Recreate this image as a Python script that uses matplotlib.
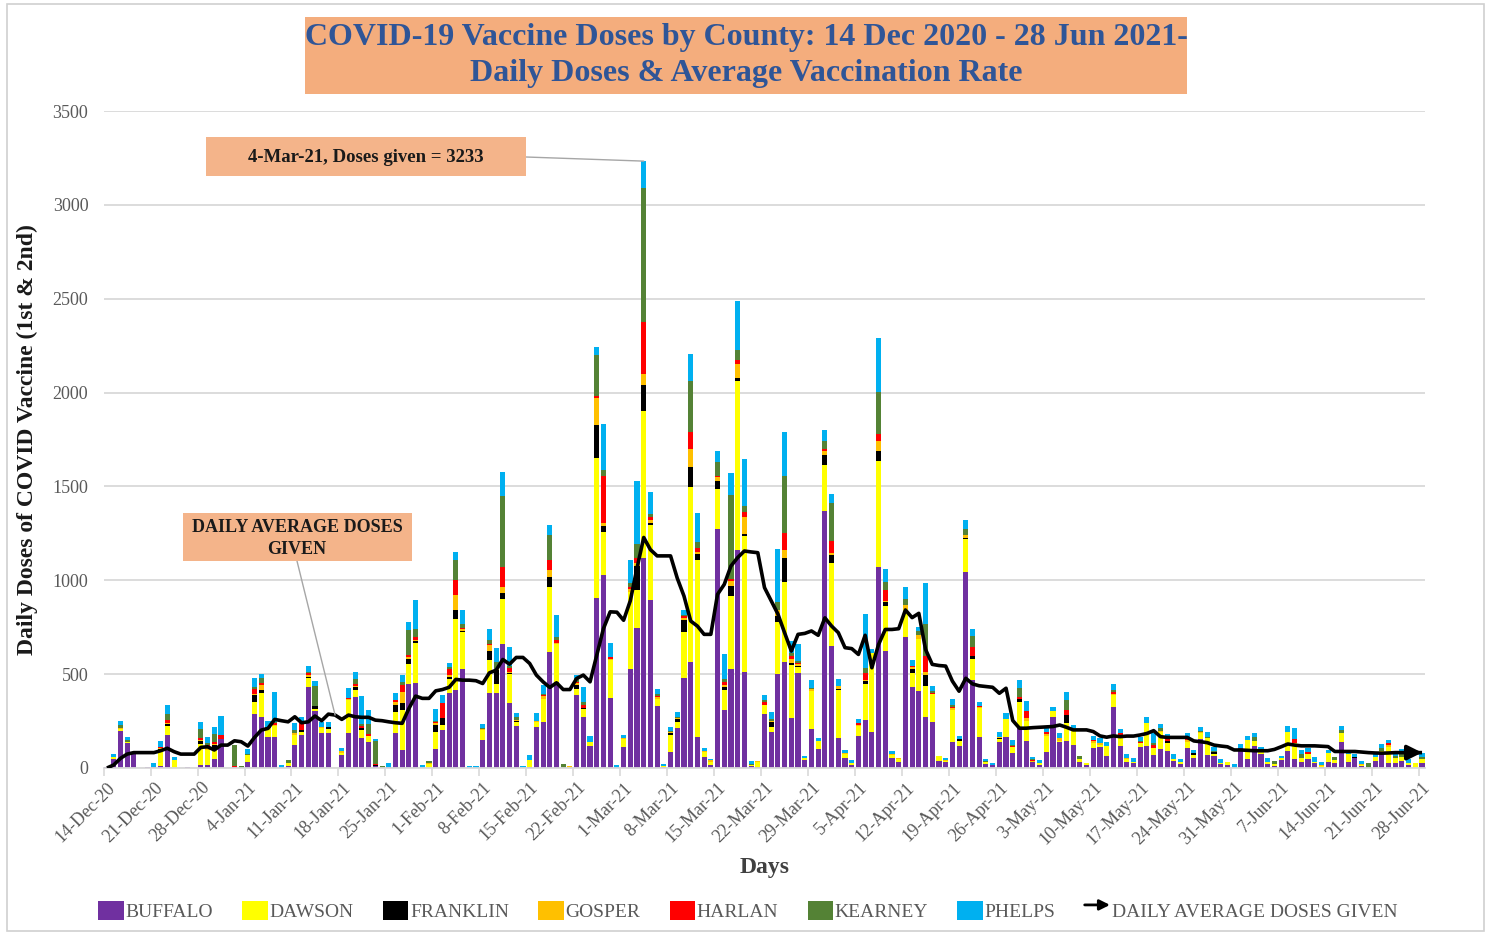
import numpy as np
import matplotlib
matplotlib.use("Agg")
import matplotlib.pyplot as plt
from matplotlib.patches import Patch, Rectangle, FancyArrowPatch
from matplotlib.lines import Line2D
from matplotlib.legend_handler import HandlerBase

plt.rcParams['font.family'] = ['Liberation Serif', 'DejaVu Serif']

# ---- data: daily doses per county, 14 Dec 2020 .. 28 Jun 2021 (197 days) ----
buffalo = [3, 50, 199, 131, 78, 0, 3, 5, 10, 174,
           2, 0, 5, 0, 15, 15, 46, 152, 0, 5,
           0, 34, 290, 273, 167, 167, 0, 8, 122, 175,
           433, 305, 188, 188, 0, 70, 184, 376, 158, 140,
           10, 0, 5, 188, 96, 450, 454, 0, 0, 99,
           202, 400, 418, 530, 0, 0, 149, 397, 400, 663,
           347, 223, 0, 5, 220, 246, 619, 459, 0, 0,
           388, 270, 117, 908, 1030, 374, 0, 110, 525, 746,
           1121, 896, 330, 3, 85, 215, 478, 564, 167, 60,
           15, 1271, 311, 528, 1164, 511, 8, 5, 290, 190,
           499, 564, 267, 507, 40, 208, 101, 1370, 649, 160,
           53, 17, 173, 254, 190, 1073, 623, 52, 32, 699,
           432, 409, 272, 244, 36, 30, 137, 117, 1042, 470,
           167, 21, 18, 137, 164, 82, 221, 146, 34, 16,
           87, 274, 141, 146, 121, 34, 16, 105, 114, 64,
           327, 119, 34, 25, 113, 117, 69, 99, 90, 39,
           21, 105, 55, 152, 69, 64, 20, 16, 0, 105,
           46, 119, 74, 21, 11, 40, 92, 46, 34, 46,
           25, 7, 34, 29, 141, 34, 52, 12, 4, 39,
           75, 25, 29, 39, 16, 0, 29]
dawson = [0, 8, 10, 8, 0, 0, 0, 0, 85, 50,
          40, 0, 0, 0, 115, 80, 60, 0, 0, 0,
          0, 35, 62, 124, 44, 55, 0, 20, 53, 15,
          44, 10, 23, 20, 0, 10, 177, 39, 44, 30,
          0, 0, 0, 112, 213, 106, 213, 0, 20, 94,
          27, 73, 378, 195, 0, 0, 53, 177, 50, 239,
          156, 23, 0, 35, 27, 119, 346, 204, 0, 3,
          35, 43, 23, 745, 227, 200, 0, 45, 415, 200,
          782, 396, 40, 10, 90, 30, 246, 932, 943, 25,
          15, 214, 107, 388, 900, 726, 10, 28, 43, 28,
          279, 428, 280, 32, 12, 201, 41, 244, 445, 254,
          20, 12, 50, 196, 423, 564, 240, 18, 18, 146,
          75, 279, 164, 148, 30, 8, 174, 28, 178, 110,
          151, 10, 0, 16, 96, 32, 133, 107, 0, 10,
          84, 27, 5, 96, 91, 12, 12, 27, 10, 53,
          62, 48, 12, 8, 21, 124, 35, 94, 44, 8,
          9, 35, 14, 32, 89, 11, 9, 14, 0, 0,
          103, 27, 27, 9, 11, 12, 101, 89, 18, 29,
          9, 5, 45, 14, 48, 41, 0, 5, 0, 21,
          13, 89, 23, 21, 9, 25, 18]
franklin = [0, 0, 0, 0, 0, 0, 2, 0, 5, 10,
            0, 0, 0, 0, 15, 0, 15, 0, 0, 0,
            0, 0, 35, 18, 0, 0, 0, 0, 0, 10,
            8, 14, 0, 8, 0, 0, 0, 14, 12, 0,
            5, 0, 0, 35, 35, 27, 8, 0, 0, 35,
            35, 12, 48, 5, 0, 0, 0, 50, 70, 30,
            5, 7, 0, 0, 0, 0, 53, 0, 0, 0,
            18, 5, 0, 174, 34, 0, 0, 0, 0, 130,
            139, 15, 0, 0, 10, 18, 64, 107, 32, 0,
            0, 43, 14, 53, 15, 9, 0, 0, 0, 25,
            32, 129, 12, 5, 0, 0, 0, 53, 39, 5,
            0, 0, 0, 12, 0, 53, 21, 0, 0, 0,
            21, 0, 62, 0, 0, 0, 0, 8, 5, 18,
            0, 0, 0, 5, 0, 0, 12, 0, 0, 0,
            0, 0, 0, 41, 0, 0, 0, 0, 0, 0,
            0, 0, 0, 0, 0, 0, 5, 0, 12, 0,
            0, 0, 12, 0, 0, 8, 0, 0, 0, 0,
            0, 0, 0, 0, 0, 0, 0, 0, 0, 0,
            0, 0, 0, 0, 0, 0, 9, 0, 0, 0,
            0, 0, 0, 0, 0, 0, 0]
gosper = [0, 0, 5, 0, 0, 0, 0, 0, 5, 5,
          0, 0, 0, 0, 5, 15, 5, 0, 0, 0,
          0, 0, 5, 27, 0, 5, 0, 0, 10, 0,
          10, 0, 5, 0, 0, 8, 8, 8, 0, 0,
          0, 0, 0, 15, 62, 10, 6, 0, 5, 12,
          0, 10, 76, 8, 0, 0, 5, 30, 5, 32,
          5, 5, 0, 5, 5, 18, 39, 5, 0, 7,
          10, 0, 0, 142, 14, 5, 0, 3, 16, 15,
          58, 15, 10, 0, 8, 5, 12, 96, 10, 5,
          15, 20, 8, 25, 71, 89, 0, 2, 5, 5,
          32, 43, 21, 12, 0, 10, 0, 23, 14, 18,
          7, 0, 8, 8, 0, 53, 5, 5, 3, 21,
          10, 23, 12, 0, 0, 3, 10, 0, 18, 0,
          7, 0, 0, 5, 0, 0, 0, 12, 5, 0,
          10, 0, 12, 0, 0, 0, 0, 10, 8, 0,
          5, 8, 5, 0, 0, 0, 0, 4, 0, 0,
          0, 11, 0, 8, 4, 0, 0, 0, 0, 0,
          0, 0, 0, 0, 0, 0, 0, 0, 0, 0,
          0, 4, 0, 0, 0, 0, 0, 4, 0, 0,
          0, 9, 0, 0, 0, 0, 0]
harlan = [0, 0, 0, 0, 0, 0, 0, 0, 8, 15,
          0, 0, 0, 0, 10, 15, 15, 23, 0, 3,
          0, 0, 27, 10, 0, 15, 0, 0, 0, 45,
          12, 0, 0, 0, 0, 0, 5, 10, 8, 12,
          5, 0, 0, 10, 35, 10, 18, 0, 0, 5,
          80, 30, 80, 10, 0, 0, 0, 5, 5, 106,
          18, 0, 0, 0, 0, 5, 53, 14, 0, 0,
          5, 18, 0, 12, 248, 14, 0, 0, 10, 30,
          274, 15, 5, 0, 0, 0, 8, 90, 21, 0,
          0, 10, 18, 11, 21, 30, 0, 0, 11, 0,
          0, 86, 15, 5, 0, 3, 0, 12, 62, 0,
          0, 0, 9, 36, 0, 36, 57, 0, 0, 0,
          8, 0, 85, 9, 0, 0, 5, 0, 0, 44,
          6, 0, 0, 0, 0, 5, 12, 36, 5, 0,
          10, 0, 0, 27, 0, 0, 0, 8, 0, 0,
          12, 10, 0, 0, 4, 0, 15, 0, 15, 0,
          0, 12, 0, 0, 0, 0, 0, 0, 0, 0,
          0, 0, 0, 0, 0, 0, 0, 18, 0, 12,
          0, 0, 0, 0, 0, 0, 0, 0, 0, 0,
          0, 9, 0, 0, 0, 0, 0]
kearney = [0, 0, 15, 8, 0, 0, 0, 0, 0, 36,
           0, 0, 0, 0, 50, 10, 40, 0, 0, 114,
           10, 5, 15, 25, 10, 5, 0, 12, 18, 0,
           6, 106, 5, 5, 0, 0, 0, 28, 15, 55,
           124, 10, 0, 0, 15, 133, 44, 0, 14, 5,
           0, 14, 106, 21, 0, 0, 5, 22, 36, 381,
           12, 14, 0, 0, 0, 8, 129, 14, 21, 0,
           21, 18, 0, 218, 37, 0, 0, 0, 20, 70,
           714, 17, 8, 0, 5, 5, 5, 270, 32, 0,
           0, 73, 15, 450, 54, 32, 5, 0, 12, 13,
           43, 306, 20, 8, 0, 5, 0, 41, 201, 0,
           0, 0, 0, 27, 0, 226, 44, 0, 0, 32,
           0, 18, 174, 8, 0, 0, 12, 0, 30, 62,
           0, 5, 0, 4, 0, 3, 48, 0, 4, 3,
           3, 0, 0, 53, 0, 18, 0, 0, 0, 0,
           10, 0, 0, 0, 6, 0, 10, 14, 0, 0,
           0, 0, 0, 5, 4, 10, 0, 0, 0, 0,
           0, 18, 0, 0, 17, 0, 0, 0, 23, 0,
           0, 0, 0, 18, 14, 0, 0, 0, 21, 0,
           18, 0, 12, 18, 0, 0, 14]
phelps = [2, 17, 23, 20, 9, 0, 0, 20, 29, 45,
          15, 0, 0, 0, 35, 32, 39, 103, 0, 0,
          0, 26, 43, 26, 31, 159, 15, 0, 35, 28,
          30, 28, 25, 25, 0, 17, 50, 37, 146, 71,
          8, 0, 20, 40, 39, 42, 151, 15, 0, 62,
          44, 21, 45, 73, 10, 8, 22, 62, 71, 124,
          103, 22, 10, 24, 42, 45, 57, 118, 0, 0,
          18, 79, 30, 43, 240, 74, 15, 20, 120, 337,
          145, 116, 27, 8, 22, 27, 27, 144, 152, 18,
          3, 58, 132, 116, 262, 249, 16, 0, 30, 36,
          283, 234, 60, 89, 14, 44, 18, 59, 48, 36,
          14, 12, 23, 285, 21, 285, 68, 14, 0, 68,
          32, 23, 217, 27, 0, 12, 30, 18, 50, 36,
          23, 10, 10, 27, 35, 27, 44, 58, 12, 14,
          18, 26, 27, 41, 17, 0, 0, 23, 26, 24,
          32, 21, 23, 18, 19, 29, 50, 21, 18, 27,
          18, 25, 15, 23, 27, 20, 17, 0, 21, 23,
          21, 24, 12, 21, 0, 12, 30, 59, 21, 18,
          23, 14, 17, 0, 22, 12, 14, 18, 0, 15,
          23, 18, 11, 22, 23, 0, 18]
daily_avg = [0, 16, 51, 74, 82, 82, 82, 82, 92, 105,
             87, 74, 74, 74, 110, 113, 96, 122, 122, 145,
             140, 117, 163, 202, 211, 259, 252, 246, 273, 241,
             246, 277, 252, 287, 282, 259, 282, 273, 270, 270,
             255, 252, 246, 241, 238, 317, 383, 371, 371, 411,
             418, 430, 472, 468, 468, 465, 450, 507, 521, 578,
             553, 589, 589, 557, 495, 459, 429, 454, 418, 418,
             477, 495, 459, 601, 743, 832, 830, 787, 891, 1065,
             1228, 1163, 1130, 1130, 1130, 1011, 916, 783, 756, 712,
             712, 925, 978, 1076, 1121, 1156, 1151, 1147, 961, 890,
             820, 720, 623, 712, 717, 730, 707, 800, 756, 721,
             641, 636, 605, 707, 534, 658, 738, 738, 742, 842,
             801, 824, 632, 552, 546, 543, 463, 409, 478, 448,
             438, 434, 430, 398, 425, 253, 212, 212, 215, 217,
             219, 221, 229, 217, 203, 203, 203, 194, 171, 164,
             171, 167, 170, 170, 176, 184, 199, 167, 163, 163,
             163, 163, 144, 140, 135, 122, 117, 113, 96, 96,
             94, 92, 92, 92, 99, 113, 128, 122, 118, 118,
             118, 116, 114, 88, 88, 88, 88, 85, 82, 80,
             79, 80, 82, 82, 82, 82, 82]

tick_labels = ['14-Dec-20', '21-Dec-20', '28-Dec-20', '4-Jan-21', '11-Jan-21',
               '18-Jan-21', '25-Jan-21', '1-Feb-21', '8-Feb-21', '15-Feb-21',
               '22-Feb-21', '1-Mar-21', '8-Mar-21', '15-Mar-21', '22-Mar-21',
               '29-Mar-21', '5-Apr-21', '12-Apr-21', '19-Apr-21', '26-Apr-21',
               '3-May-21', '10-May-21', '17-May-21', '24-May-21', '31-May-21',
               '7-Jun-21', '14-Jun-21', '21-Jun-21', '28-Jun-21']

counties = ['BUFFALO', 'DAWSON', 'FRANKLIN', 'GOSPER', 'HARLAN', 'KEARNEY', 'PHELPS']
series = [buffalo, dawson, franklin, gosper, harlan, kearney, phelps]
colors = ['#7030A0', '#FFFF00', '#000000', '#FFC000', '#FF0000', '#548235', '#00B0F0']

days = np.arange(len(buffalo))
total = np.sum(np.array(series), axis=0)
peak = int(np.argmax(total))

W, H = 1488, 932
fig = plt.figure(figsize=(W / 100, H / 100), dpi=100)
ax = fig.add_axes([103.6 / W, 1 - 768 / H, (1425.4 - 103.6) / W, (768 - 111) / H])

bottom = np.zeros(len(days))
for name, vals, c in zip(counties, series, colors):
    ax.bar(days, vals, width=0.76, bottom=bottom, color=c, edgecolor='none', label=name, zorder=2)
    bottom += np.array(vals)

ax.plot(days, daily_avg, color='black', lw=2.6, zorder=3, solid_capstyle='butt')
ax.annotate('', xy=(days[-1], daily_avg[-1]), xytext=(days[-3], daily_avg[-3]),
            arrowprops=dict(arrowstyle='-|>', color='black', lw=2.6, mutation_scale=22,
                            shrinkA=0, shrinkB=0), zorder=4)

ax.set_xlim(-0.5, len(days) - 0.5)
ax.set_ylim(0, 3500)
ax.set_yticks(np.arange(0, 3501, 500))
ax.yaxis.grid(True, color='#D9D9D9', lw=1.3)
ax.set_axisbelow(True)
for s in ['top', 'right', 'left']:
    ax.spines[s].set_visible(False)
ax.spines['bottom'].set_color('#D9D9D9')
ax.spines['bottom'].set_linewidth(1.3)

tick_days = days[::7]
ax.set_xticks(tick_days)
ax.set_xticklabels(tick_labels, rotation=45, ha='right', va='top', rotation_mode='anchor',
                   fontsize=13, color='#595959')
ax.set_xticks(tick_days - 0.5, minor=True)
ax.tick_params(axis='x', which='major', length=0, pad=8)
ax.tick_params(axis='x', which='minor', length=6, color='#D9D9D9', width=1.2)
ax.tick_params(axis='y', length=0, pad=11, labelsize=13, labelcolor='#595959')

ax.set_ylabel('Daily Doses of COVID Vaccine (1st & 2nd)', fontsize=17, fontweight='bold', color='#1A1A1A')
ax.yaxis.set_label_coords((38 - 103.6) / (1425.4 - 103.6), 0.5)
ax.set_xlabel('Days', fontsize=17, fontweight='bold', color='#404040')
ax.xaxis.set_label_coords(0.5, (768 - 857) / (768 - 111))


def fbox(x0, y0, x1, y1, color):
    fig.patches.append(Rectangle((x0 / W, 1 - y1 / H), (x1 - x0) / W, (y1 - y0) / H,
                                 transform=fig.transFigure, facecolor=color, edgecolor='none', zorder=5))


# outer frame
fig.patches.append(Rectangle((7 / W, 1.5 / H), (1484 - 7) / W, (930 - 3) / H, transform=fig.transFigure,
                             facecolor='none', edgecolor='#D0D0D0', lw=1.2))

# title
fbox(305, 17, 1187, 94, '#F4AD7D')
fig.text(746 / W, 1 - 38 / H, 'COVID-19 Vaccine Doses by County: 14 Dec 2020 - 28 Jun 2021-',
         ha='center', va='center', fontsize=23, fontweight='bold', color='#2F5597', zorder=6)
fig.text(746 / W, 1 - 74 / H, 'Daily Doses & Average Vaccination Rate',
         ha='center', va='center', fontsize=23, fontweight='bold', color='#2F5597', zorder=6)

# peak annotation
fbox(206, 137, 526, 176, '#F4B48A')
fig.text(366 / W, 1 - 157 / H, '4-Mar-21, Doses given = %d' % total[peak],
         ha='center', va='center', fontsize=13.5, fontweight='bold', color='#1A1A1A', zorder=6)
ax.annotate('', xy=(days[peak], total[peak]), xytext=(526 / W, 1 - 157 / H),
            textcoords='figure fraction',
            arrowprops=dict(arrowstyle='-', color='#A6A6A6', lw=1, shrinkA=0, shrinkB=0))

# average line annotation
fbox(183, 513, 412, 561, '#F4B48A')
fig.text(297 / W, 1 - 527 / H, 'DAILY AVERAGE DOSES', ha='center', va='center',
         fontsize=13, fontweight='bold', color='#1A1A1A', zorder=6)
fig.text(297 / W, 1 - 549 / H, 'GIVEN', ha='center', va='center',
         fontsize=13, fontweight='bold', color='#1A1A1A', zorder=6)
ax.annotate('', xy=(days[34], daily_avg[34]), xytext=(297 / W, 1 - 561 / H),
            textcoords='figure fraction',
            arrowprops=dict(arrowstyle='-', color='#A6A6A6', lw=1, shrinkA=0, shrinkB=0))


class ArrowHandler(HandlerBase):
    def create_artists(self, legend, orig, xd, yd, width, height, fontsize, trans):
        arr = FancyArrowPatch((xd, yd + height / 2), (xd + width, yd + height / 2),
                              arrowstyle='-|>', mutation_scale=fontsize * 1.1, lw=2,
                              color='black', transform=trans, shrinkA=0, shrinkB=0)
        return [arr]


handles = [Patch(facecolor=c, edgecolor='none') for c in colors]
avg_handle = Line2D([], [], color='black')
handles.append(avg_handle)
labels = counties + ['DAILY AVERAGE DOSES GIVEN']
fig.legend(handles, labels, loc='center', bbox_to_anchor=(748 / W, 1 - 911 / H), ncol=8,
           frameon=False, handlelength=1.3, handleheight=1.1, handletextpad=0.1,
           columnspacing=1.5, prop={'size': 14}, labelcolor='#595959',
           handler_map={avg_handle: ArrowHandler()})

fig.savefig('out.png', dpi=100)
